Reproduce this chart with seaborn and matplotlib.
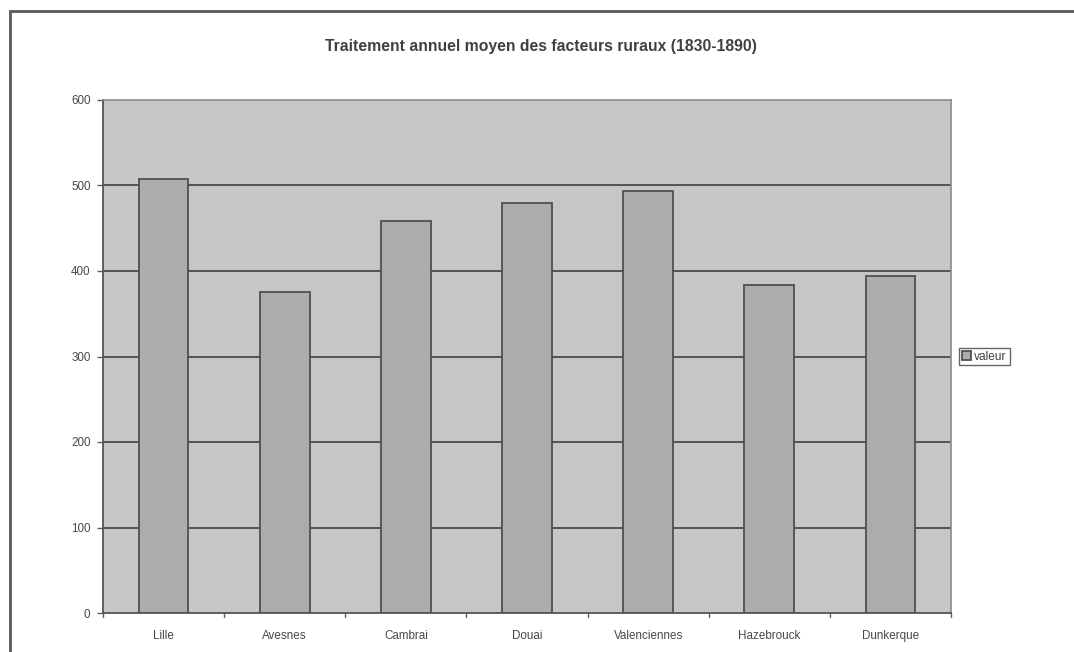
import matplotlib
matplotlib.use("Agg")
import matplotlib.pyplot as plt
from matplotlib.patches import Rectangle
import seaborn as sns
import pandas as pd

# Average yearly pay of rural postmen per arrondissement
arrondissements = ["Lille", "Avesnes", "Cambrai", "Douai", "Valenciennes", "Hazebrouck", "Dunkerque"]
valeur = [508, 376, 458, 479, 493, 384, 394]
y_ticks = [0, 100, 200, 300, 400, 500, 600]

df = pd.DataFrame({"arrondissement": arrondissements, "valeur": valeur})

sns.set_theme(style="white")
plt.rcParams["font.family"] = ["Liberation Sans", "DejaVu Sans"]

W, H = 1074, 652
fig = plt.figure(figsize=(W / 100, H / 100), dpi=100)
fig.patch.set_facecolor("white")

# plot area in pixel terms: left 103, right 951, top 100, bottom 613
ax = fig.add_axes([103 / W, 1 - 613 / H, (951 - 103) / W, (613 - 100) / H])
ax.set_facecolor("#c6c6c6")

sns.barplot(data=df, x="arrondissement", y="valeur", ax=ax, color="#acacac",
            width=0.41, edgecolor="#505050", linewidth=1.3, saturation=1,
            label="valeur", zorder=3)

ax.set_ylim(0, 600)
ax.set_xlim(-0.5, len(arrondissements) - 0.5)
ax.set_yticks(y_ticks)
ax.set_yticklabels([str(t) for t in y_ticks])
ax.set_xlabel("")
ax.set_ylabel("")

# horizontal gridlines
for t in y_ticks[1:-1]:
    ax.axhline(t, color="#404040", linewidth=1.2, zorder=2)

# category boundary ticks on the x axis
ax.set_xticks(range(len(arrondissements)))
ax.set_xticklabels(arrondissements)
ax.tick_params(axis="x", length=0, pad=12, labelsize=8.4, labelcolor="#484848")
ax.tick_params(axis="y", length=4, width=1, color="#606060", direction="out",
               pad=5, labelsize=8.4, labelcolor="#484848", left=True)
for b in [i - 0.5 for i in range(len(arrondissements) + 1)]:
    ax.plot([b, b], [0, -0.008], transform=ax.get_xaxis_transform(),
            color="#606060", linewidth=1, clip_on=False)

for side in ["left", "bottom"]:
    ax.spines[side].set_color("#555555")
    ax.spines[side].set_linewidth(1.3)
for side in ["top", "right"]:
    ax.spines[side].set_color("#8a8a8a")
    ax.spines[side].set_linewidth(1.2)
    ax.spines[side].set_visible(True)

# title
fig.text(541 / W, 1 - 47 / H, "Traitement annuel moyen des facteurs ruraux (1830-1890)",
         ha="center", va="center", fontsize=11.3, fontweight="bold", color="#404040")

# legend
leg = ax.legend(loc="center left", bbox_to_anchor=(1.01, 0.5), frameon=True,
                fontsize=8.6, handlelength=0.7, handleheight=0.7, handletextpad=0.3,
                borderpad=0.25, borderaxespad=0, fancybox=False)
leg.get_frame().set_edgecolor("#404040")
leg.get_frame().set_linewidth(1)
for txt in leg.get_texts():
    txt.set_color("#404040")

# outer chart frame
fig.patches.append(Rectangle((10 / W, -0.05), 1.2, 1 - 11 / H + 0.05,
                             transform=fig.transFigure, fill=False,
                             edgecolor="#5a5a5a", linewidth=2))

fig.savefig("out.png", dpi=100)
